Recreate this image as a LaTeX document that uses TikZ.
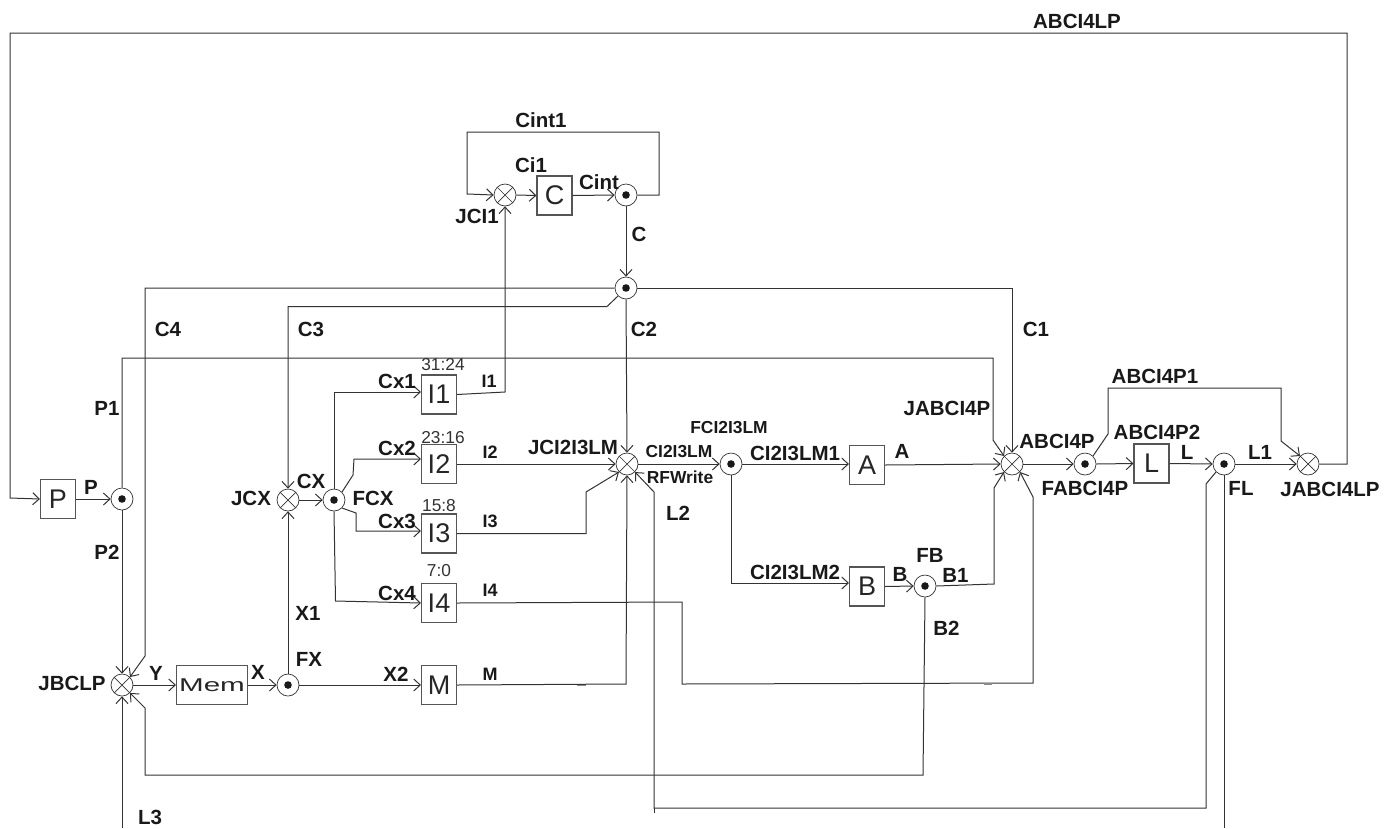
\documentclass[tikz,border=0pt]{standalone}
\usepackage{fontspec}
\usepackage{graphicx}
\setmainfont{Liberation Sans}
\usetikzlibrary{arrows.meta}
\definecolor{wire}{HTML}{333333}
\definecolor{boxline}{HTML}{555555}
\tikzset{
  wirepath/.style={draw=wire,line width=1pt},
  arr/.style={wirepath,-{Straight Barb[length=6.5pt,width=12pt,line width=1pt]}},
  blockbox/.style={draw=boxline,line width=1.1pt,fill=white,minimum width=35pt,minimum height=39pt,inner sep=0pt,font=\fontsize{27}{27}\selectfont,text=black!85},
  forknode/.style={circle,draw=wire,line width=0.7pt,fill=white,minimum size=22pt,inner sep=0pt,
    path picture={\fill[black!90] (path picture bounding box.center) circle (3.8pt);}},
  joinnode/.style={circle,draw=wire,line width=0.7pt,fill=white,minimum size=22pt,inner sep=0pt,
    path picture={\draw[wire,line width=0.7pt] (path picture bounding box.south west) -- (path picture bounding box.north east)
      (path picture bounding box.north west) -- (path picture bounding box.south east);}},
  lab/.style={inner sep=0pt,font=\fontsize{20.5}{20.5}\bfseries\selectfont,text=black!90},
  slab/.style={inner sep=0pt,font=\fontsize{17.4}{17.4}\bfseries\selectfont,text=black!90},
  tlab/.style={inner sep=0pt,font=\fontsize{18}{18}\bfseries\selectfont,text=black!90},
  bits/.style={inner sep=0pt,font=\fontsize{17.3}{17.3}\selectfont,text=black!80},
}
\begin{document}
\begin{tikzpicture}[x=1pt,y=-1pt]
\useasboundingbox (0,0) rectangle (1397,828);
% coordinates for free ends
\coordinate (endL2) at (654,813);
\coordinate (endL3) at (1224,828);
\coordinate (endJ) at (122,828);
% blocks
\node[blockbox] (P) at (58,499) {P};
\node[blockbox] (I1) at (439,394.5) {I1};
\node[blockbox] (I2) at (439,464) {I2};
\node[blockbox] (I3) at (439,533.5) {I3};
\node[blockbox] (I4) at (439,603) {I4};
\node[blockbox] (M) at (439,685) {M};
\node[blockbox,minimum width=71pt] (Mem) at (212,685) {\fontsize{18.5}{18.5}\selectfont\scalebox{1.6}[1]{Mem}};
\node[blockbox] (C) at (554.5,195.5) {C};
\node[blockbox] (A) at (867,465) {A};
\node[blockbox] (B) at (867,586.5) {B};
\node[blockbox] (L) at (1151.5,463.5) {L};
% forks and joins
\node[forknode] (FP) at (122,499) {};
\node[joinnode] (JCX) at (288,500) {};
\node[forknode] (FCX) at (334,500) {};
\node[forknode] (FX) at (288,685) {};
\node[joinnode] (JBCLP) at (122,685) {};
\node[joinnode] (JCI1) at (505,195) {};
\node[forknode] (FCint) at (626,195) {};
\node[forknode] (FC) at (626,288) {};
\node[joinnode] (JCI) at (627,464) {};
\node[forknode] (FCI) at (731,464) {};
\node[forknode] (FB) at (925,586) {};
\node[joinnode] (JAB) at (1012,464) {};
\node[forknode] (FAB) at (1085,464) {};
\node[forknode] (FL) at (1224,464) {};
\node[joinnode] (JABL) at (1308,464) {};
% connectors
\draw[arr] (JABL.east) -- (1347,464) -- (1347,33) -- (10,33) -- (10,498) -- (P.west);
\draw[arr] (P.east) -- (FP.west);
\draw[arr] (FP.north) -- (122,358) -- (993,358) -- (993,440) -- (JAB.north west);
\draw[arr] (FP.south) -- (JBCLP.north);
\draw[arr] (FC.west) -- (145,288) -- (145,656) -- (JBCLP.north east);
\draw[arr] (FC.south west) -- (607,306.5) -- (288,306.5) -- (JCX.north);
\draw[arr] (FC.south) -- (JCI.north);
\draw[arr] (FC.east) -- (1012,288) -- (JAB.north);
\draw[arr] (JCX.east) -- (FCX.west);
\draw[arr] (FCX.north) -- (334,392) -- (I1.west |- 0,392);
\draw[arr] (FCX.north east) -- (353,475) -- (354,459) -- (I2.west |- 0,459);
\draw[arr] (FCX.south east) -- (356,513) -- (356,531) -- (I3.west |- 0,531);
\draw[arr] (FCX.south) -- (335.5,601) -- (I4.west);
\draw[arr] (I1.east) -- (505,392) -- (JCI1.south);
\draw[arr] (I2.east) -- (JCI.west);
\draw[arr] (I3.east) -- (586,533.5) -- (586,492) -- (JCI.south west);
\draw[arr] (I4.east) -- (682,602) -- (682,684) -- (1033,683) -- (1033,497) -- (JAB.south east);
\draw[arr] (M.east) -- (626,684) -- (JCI.south);
\draw[arr] (JBCLP.east) -- (Mem.west);
\draw[arr] (Mem.east) -- (FX.west);
\draw[arr] (FX.east) -- (M.west);
\draw[arr] (FX.north) -- (JCX.south);
\draw[arr] (FB.south) -- (923,775) -- (145,775) -- (145,708) -- (JBCLP.south east);
\draw[arr] (endJ) -- (JBCLP.south);
\draw[arr] (FCint.east) -- (659,195) -- (659,132) -- (467,132) -- (467,194) -- (JCI1.west);
\draw[arr] (JCI1.east) -- (C.west);
\draw[arr] (C.east) -- (FCint.west);
\draw[arr] (FCint.south) -- (FC.north);
\draw[arr] (JCI.east) -- (FCI.west);
\draw[arr] (FCI.east) -- (A.west |- 0,464);
\draw[arr] (FCI.south) -- (731,583) -- (B.west |- 0,583);
\draw[arr] (A.east) -- (JAB.west);
\draw[arr] (B.east) -- (FB.west);
\draw[arr] (FB.east) -- (994,584) -- (994,488) -- (JAB.south west);
\draw[arr] (JAB.east) -- (FAB.west);
\draw[arr] (FAB.east) -- (L.west);
\draw[arr] (L.east) -- (FL.west);
\draw[arr] (FL.east) -- (JABL.west);
\draw[arr] (FAB.north east) -- (1108,434) -- (1108,388) -- (1281,388) -- (1281,441) -- (JABL.north west);
\draw[arr] (FL.south west) -- (1206,484) -- (1206,808) -- (654,808) -- (654,492) -- (JCI.south east);
\draw[wirepath] (654,808) -- (endL2);
\draw[wirepath] (FL.south) -- (endL3);
\draw[draw=black!45,line width=1.4pt] (577,685.5) -- (586,685.5);
\draw[draw=black!45,line width=1.4pt] (984,684) -- (992,684);
% labels
\node[lab] (tABCI4LP) at (1077,21) {ABCI4LP};
\node[lab] (tCint1) at (541,120) {Cint1};
\node[lab] (tCi1) at (531,165) {Ci1};
\node[lab] (tCint) at (599,182) {Cint};
\node[lab] (tJCI1) at (477,216) {JCI1};
\node[lab] (tC) at (639,234) {C};
\node[lab] (tC4) at (168,329) {C4};
\node[lab] (tC3) at (311,329) {C3};
\node[lab] (tC2) at (644,329) {C2};
\node[lab] (tC1) at (1036,329) {C1};
\node[lab] (tP1) at (107,408) {P1};
\node[lab] (tP) at (91,487) {P};
\node[lab] (tP2) at (107,552) {P2};
\node[lab] (tJCX) at (251,498) {JCX};
\node[lab] (tCX) at (311,481) {CX};
\node[lab] (tFCX) at (373,498) {FCX};
\node[lab] (tCx1) at (397,381) {Cx1};
\node[lab] (tCx2) at (397,448) {Cx2};
\node[lab] (tCx3) at (397,521) {Cx3};
\node[lab] (tCx4) at (397,593) {Cx4};
\node[bits] (b1) at (443,365) {31:24};
\node[bits] (b2) at (443,438) {23:16};
\node[bits] (b3) at (439,506) {15:8};
\node[bits] (b4) at (439,571) {7:0};
\node[tlab] (tI1) at (489,381) {I1};
\node[tlab] (tI2) at (490,452) {I2};
\node[tlab] (tI3) at (490,521) {I3};
\node[tlab] (tI4) at (490,590) {I4};
\node[tlab] (tM) at (490,674) {M};
\node[lab] (tX2) at (396,674) {X2};
\node[lab] (tX1) at (308,613) {X1};
\node[lab] (tFX) at (309,659) {FX};
\node[lab] (tX) at (258,672) {X};
\node[lab] (tY) at (156,673) {Y};
\node[lab] (tJBCLP) at (72,683) {JBCLP};
\node[lab] (tL3) at (150,817.5) {L3};
\node[lab] (tJCI) at (573,447) {JCI2I3LM};
\node[slab] (tCI) at (679,452) {CI2I3LM};
\node[slab] (tFCI) at (729,428) {FCI2I3LM};
\node[slab] (tRF) at (680,477) {RFWrite};
\node[lab] (tL2) at (678,513) {L2};
\node[lab] (tCI1) at (795,453) {CI2I3LM1};
\node[lab] (tCI2) at (795,572) {CI2I3LM2};
\node[lab] (tA) at (902,451) {A};
\node[lab] (tB) at (900,574) {B};
\node[lab] (tFB) at (930,555) {FB};
\node[lab] (tB1) at (955.5,575) {B1};
\node[lab] (tB2) at (946.5,628) {B2};
\node[lab] (tJAB) at (947,408) {JABCI4P};
\node[lab] (tAB) at (1057,441) {ABCI4P};
\node[lab] (tAB1) at (1155,376) {ABCI4P1};
\node[lab] (tAB2) at (1157,432) {ABCI4P2};
\node[lab] (tL) at (1187,452) {L};
\node[lab] (tL1) at (1260,452) {L1};
\node[lab] (tFL) at (1241,488) {FL};
\node[lab] (tFAB) at (1085,488) {FABCI4P};
\node[lab] (tJABL) at (1330,489) {JABCI4LP};
\end{tikzpicture}
\end{document}
